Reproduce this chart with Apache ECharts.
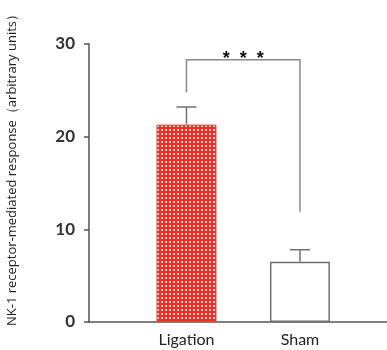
<!DOCTYPE html>
<html>
<head>
<meta charset="utf-8">
<script src="https://cdn.jsdelivr.net/npm/echarts@6/dist/echarts.min.js"></script>
<style>
  html, body { margin: 0; padding: 0; background: #fff; }
  #main { width: 387px; height: 350px; }
</style>
</head>
<body>
<div id="main"></div>
<script>
// groups and values
var groups = ['Ligation', 'Sham'];
var groupPos = [1, 2];
var means = [21.3, 6.5];
var errTop = [23.2, 7.8];
// significance bracket: left foot, top, right foot
var bracket = [24.8, 28.3, 11.9];
var sigText = '*  *  *';
var yTicks = [0, 10, 20, 30];

// red dotted fill for the Ligation bar
function makePattern(){
  var c = document.createElement('canvas');
  c.width = 4; c.height = 4;
  var ctx = c.getContext('2d');
  ctx.fillStyle = '#ee2e22';
  ctx.fillRect(0, 0, 4, 4);
  ctx.fillStyle = 'rgba(255,235,230,0.9)';
  ctx.fillRect(1, 1, 2, 2);
  return c;
}

var chart = echarts.init(document.getElementById('main'));

var barData = [];
for (var i = 0; i < groups.length; i++) {
  barData.push({
    value: [groupPos[i], means[i]],
    itemStyle: i == 0
      ? {color: {image: makePattern(), repeat: 'repeat'}, borderColor: '#e8453a', borderWidth: 1}
      : {color: '#fff', borderColor: '#707070', borderWidth: 1.5}
  });
}

var errData = [];
for (i = 0; i < groups.length; i++) {
  errData.push([groupPos[i], means[i], errTop[i]]);
}

var option = {
  animation: false,
  grid: {left: 89, right: 0, top: 44, bottom: 28, containLabel: false},
  xAxis: {
    type: 'value',
    min: 0.141,
    max: 2.767,
    splitLine: {show: false},
    axisLine: {show: true, lineStyle: {color: '#555', width: 1.5}},
    axisTick: {show: false},
    axisLabel: {
      customValues: groupPos,
      margin: 10,
      fontFamily: 'Lato',
      fontSize: 16,
      color: '#222',
      formatter: function (v) { return groups[groupPos.indexOf(v)] || ''; }
    }
  },
  yAxis: {
    type: 'value',
    min: yTicks[0],
    max: yTicks[yTicks.length - 1],
    interval: 10,
    splitLine: {show: false},
    axisLine: {show: true, lineStyle: {color: '#555', width: 1.5}},
    axisTick: {show: true, length: 5, lineStyle: {color: '#555', width: 1.5}},
    axisLabel: {margin: 14, fontFamily: 'Lato', fontWeight: 'bold', fontSize: 17, color: '#333'}
  },
  graphic: [{
    type: 'text',
    x: 12,
    y: 167,
    rotation: Math.PI / 2,
    style: {
      text: 'NK-1 receptor-mediated response（arbitrary units）',
      fontFamily: 'Open Sans',
      fontSize: 13,
      fill: '#222',
      align: 'center',
      verticalAlign: 'middle'
    }
  }],
  series: [
    {
      type: 'bar',
      barWidth: 60,
      data: barData,
      z: 2
    },
    {
      // error bars
      type: 'custom',
      data: errData,
      z: 1,
      renderItem: function (params, api) {
        var base = api.coord([api.value(0), api.value(1)]);
        var top = api.coord([api.value(0), api.value(2)]);
        return {
          type: 'group',
          children: [
            {type: 'line', shape: {x1: base[0], y1: base[1], x2: top[0], y2: top[1]}, style: {stroke: '#707070', lineWidth: 1.5}},
            {type: 'line', shape: {x1: top[0] - 10, y1: top[1], x2: top[0] + 10, y2: top[1]}, style: {stroke: '#707070', lineWidth: 1.5}}
          ]
        };
      }
    },
    {
      // significance bracket and stars
      type: 'custom',
      data: [[groupPos[0], groupPos[1]]],
      renderItem: function (params, api) {
        var p1 = api.coord([groupPos[0], bracket[0]]);
        var p2 = api.coord([groupPos[0], bracket[1]]);
        var p3 = api.coord([groupPos[1], bracket[1]]);
        var p4 = api.coord([groupPos[1], bracket[2]]);
        return {
          type: 'group',
          children: [
            {type: 'polyline', shape: {points: [p1, p2, p3, p4]}, style: {stroke: '#8a8a8a', lineWidth: 1.5, fill: null}},
            {type: 'text', x: (p2[0] + p3[0]) / 2, y: p2[1] - 1,
             style: {text: sigText, fontFamily: 'Liberation Sans', fontWeight: 'bold', fontSize: 18, fill: '#111', align: 'center', verticalAlign: 'middle'}}
          ]
        };
      }
    }
  ]
};
chart.setOption(option);
</script>
</body>
</html>
